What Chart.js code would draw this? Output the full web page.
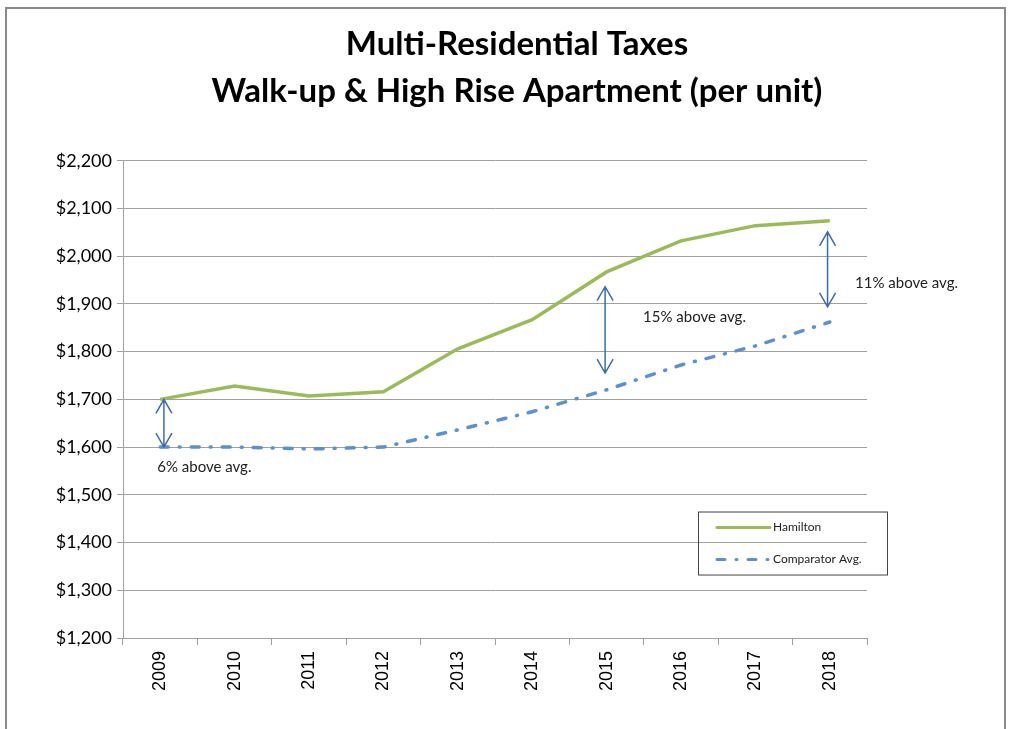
<!DOCTYPE html>
<html>
<head>
<meta charset="utf-8">
<script src="https://cdn.jsdelivr.net/npm/chart.js@4"></script>
<style>
  body { margin: 0; background: #fff; }
  #wrap { width: 1011px; height: 729px; position: relative; }
</style>
</head>
<body>
<div id="wrap"><canvas id="myChart" width="1011" height="729"></canvas></div>
<script>
const years = ['2009', '2010', '2011', '2012', '2013', '2014', '2015', '2016', '2017', '2018'];
const hamilton = [1700, 1728, 1707, 1716, 1806, 1867, 1967, 2032, 2064, 2074];
const comparator = [1600, 1600, 1596, 1600, 1636, 1674, 1720, 1772, 1812, 1862];

// gap arrows (x in category index, from/to in dollars)
const arrows = [
  { x: 0.05, from: 1700, to: 1600 },
  { x: 5.98, from: 1936, to: 1755 },
  { x: 8.97, from: 2051, to: 1894 }
];
const notes = [
  { x: -0.04, y: 1558, text: '6% above avg.' },
  { x: 6.49, y: 1873, text: '15% above avg.' },
  { x: 9.34, y: 1944, text: '11% above avg.' }
];

const green = '#9bbb59';
const blue = '#5b8fd6';
const arrowColor = '#3a6cb0';

const extras = {
  id: 'extras',
  beforeDraw(chart) {
    const ctx = chart.ctx;
    ctx.save();
    ctx.strokeStyle = '#8a8a8a';
    ctx.lineWidth = 2;
    ctx.strokeRect(6, 8, 999, 740);
    ctx.restore();
  },
  afterDraw(chart) {
    const ctx = chart.ctx;
    const xs = chart.scales.x;
    const ys = chart.scales.y;
    const step = xs.getPixelForValue(1) - xs.getPixelForValue(0);
    const px = v => xs.getPixelForValue(0) + v * step;
    ctx.save();
    ctx.strokeStyle = arrowColor;
    ctx.lineWidth = 1.5;
    arrows.forEach(a => {
      const x = px(a.x);
      const y1 = ys.getPixelForValue(a.from);
      const y2 = ys.getPixelForValue(a.to);
      ctx.beginPath();
      ctx.moveTo(x, y1);
      ctx.lineTo(x, y2);
      ctx.moveTo(x - 8, y1 + 14);
      ctx.lineTo(x, y1);
      ctx.lineTo(x + 8, y1 + 14);
      ctx.moveTo(x - 8, y2 - 14);
      ctx.lineTo(x, y2);
      ctx.lineTo(x + 8, y2 - 14);
      ctx.stroke();
    });
    ctx.fillStyle = '#222';
    ctx.font = '15px Lato';
    ctx.textBaseline = 'middle';
    notes.forEach(n => {
      ctx.fillText(n.text, px(n.x), ys.getPixelForValue(n.y));
    });

    // legend box
    const ca = chart.chartArea;
    const lx = ca.right - 169, ly = ys.getPixelForValue(1465);
    ctx.strokeStyle = '#444';
    ctx.lineWidth = 1;
    ctx.strokeRect(lx + 0.5, ly + 0.5, 189, 63);
    ctx.lineCap = 'round';
    ctx.lineWidth = 3;
    ctx.strokeStyle = green;
    ctx.beginPath();
    ctx.moveTo(lx + 19, ly + 16);
    ctx.lineTo(lx + 72, ly + 16);
    ctx.stroke();
    ctx.strokeStyle = blue;
    ctx.setLineDash([8, 11, 1, 11]);
    ctx.beginPath();
    ctx.moveTo(lx + 19, ly + 48);
    ctx.lineTo(lx + 74, ly + 48);
    ctx.stroke();
    ctx.setLineDash([]);
    ctx.fillStyle = '#222';
    ctx.font = '12px Lato';
    ctx.fillText('Hamilton', lx + 75, ly + 16);
    ctx.fillText('Comparator Avg.', lx + 75, ly + 48);
    ctx.restore();
  }
};

const data = {
  labels: years,
  datasets: [
    {
      label: 'Hamilton',
      data: hamilton,
      borderColor: green,
      borderWidth: 3.5,
      pointRadius: 0,
      tension: 0
    },
    {
      label: 'Comparator Avg.',
      data: comparator,
      borderColor: blue,
      borderWidth: 3.5,
      borderDash: [8, 11, 1, 11],
      borderCapStyle: 'round',
      pointRadius: 0,
      tension: 0
    }
  ]
};

const config = {
  type: 'line',
  data: data,
  options: {
    responsive: false,
    animation: false,
    layout: { padding: { left: 23, right: 0, top: 0, bottom: 0 } },
    plugins: {
      legend: { display: false },
      tooltip: { enabled: false },
      title: {
        display: true,
        text: ['Multi-Residential Taxes', 'Walk-up & High Rise Apartment (per unit)'],
        color: '#000',
        font: { family: 'Lato', size: 33, weight: 'bold', lineHeight: 1.42 },
        padding: { top: 21, bottom: 46 }
      }
    },
    scales: {
      x: {
        offset: true,
        grid: { offset: true, drawOnChartArea: false, tickLength: 7, color: '#a0a0a0' },
        border: { color: '#a0a0a0' },
        ticks: {
          minRotation: 90,
          maxRotation: 90,
          padding: 6,
          color: '#000',
          font: { family: 'Liberation Sans', size: 18 }
        },
        afterFit(scale) { scale.height = 91; }
      },
      y: {
        min: 1200,
        max: 2200,
        grid: { color: '#a0a0a0', tickLength: 6 },
        border: { color: '#a0a0a0' },
        ticks: {
          stepSize: 100,
          padding: 5,
          color: '#000',
          font: { family: 'Lato', size: 18 },
          callback: v => '$' + v.toLocaleString('en-US')
        },
        afterFit(scale) { scale.width = 100; }
      },
      // empty right-hand space, keeps the title centred over the plot
      pad: {
        type: 'linear',
        position: 'right',
        grid: { display: false },
        border: { display: false },
        ticks: { display: false },
        afterFit(scale) { scale.width = 144; }
      }
    }
  },
  plugins: [extras]
};

const canvasElement = document.getElementById('myChart');
const myChart = new Chart(canvasElement, config);
</script>
</body>
</html>
